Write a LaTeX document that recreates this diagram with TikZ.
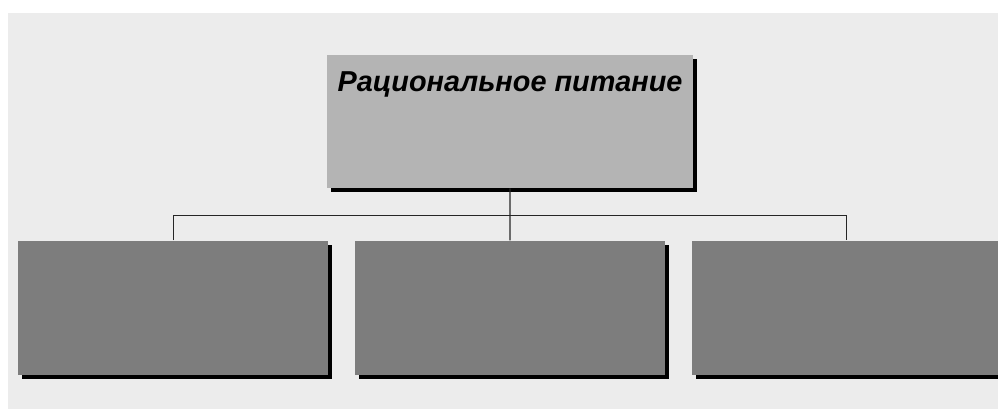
\documentclass[tikz,border=0pt]{standalone}
\usepackage{fontspec}
\newfontfamily\headfont{Liberation Sans}
\usepackage{tikz}
\usetikzlibrary{shapes,shadows,positioning,calc}
\definecolor{pagegray}{HTML}{ECECEC}
\definecolor{headgray}{HTML}{B4B4B4}
\definecolor{boxgray}{HTML}{7D7D7D}
\tikzset{
  plate/.style={
    rectangle,
    draw=none,
    drop shadow={shadow xshift=0.1cm,shadow yshift=-0.11cm,fill=black,opacity=1},
  },
  headbox/.style={plate,fill=headgray,minimum width=9.15cm,minimum height=3.325cm},
  subbox/.style={plate,fill=boxgray,minimum width=7.75cm,minimum height=3.35cm},
  link/.style={draw=black!85,line width=1pt},
}

\begin{document}
\begin{tikzpicture}[node distance=1.3cm]
        \useasboundingbox (0,0) rectangle (24.95,10.225);
        \fill[pagegray] (0.2,0) rectangle (24.95,9.9);

        \node (diet) [headbox] at (12.75,7.1875) {};
        \node[anchor=base,yshift=-0.925cm,font=\headfont\bfseries\itshape\fontsize{20.5}{24}\selectfont]
          (title) at (diet.north) {Рациональное питание};

        \node (mid) [below=1.3cm of diet,subbox] {};
        \node (left) [left=0.65cm of mid,subbox] {};
        \node (right) [right=0.65cm of mid,subbox] {};

        \coordinate (bus) at ($(diet.south)!0.52!(mid.north)$);
        \draw[link] (diet.south) -- (bus);
        \draw[link] (left.north) |- (bus) -| (right.north);
        \draw[link] (bus) -- (mid.north);
\end{tikzpicture}
\end{document}
